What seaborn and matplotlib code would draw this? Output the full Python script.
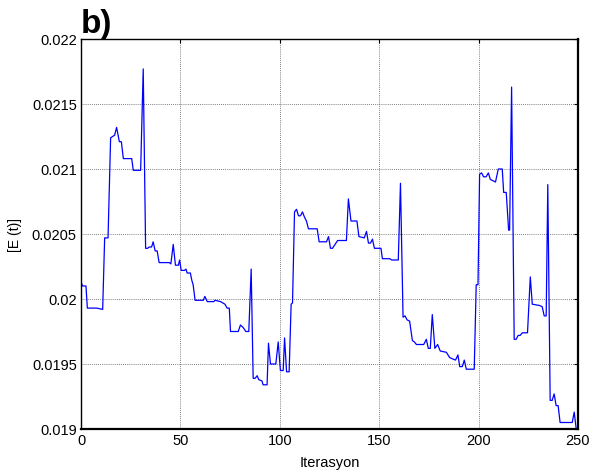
import numpy as np
import pandas as pd
import matplotlib
matplotlib.use("Agg")
import matplotlib.pyplot as plt
from matplotlib.ticker import FuncFormatter
import seaborn as sns

# breakpoints of the error curve (iteration, value)
iterasyon = [0, 0.8, 2.5, 3.2, 7.9, 10.9, 11.9, 13.6, 14.9, 16.9, 17.9, 19.3, 20.3, 21.3,
             25.5, 26.3, 30.0, 31.3, 32.5, 33.5, 34.3, 35.5, 36.3, 37.3, 38.3, 39.3,
             44.4, 45.2, 46.4, 47.5, 49.0, 49.6, 50.4, 52.0, 52.8, 53.4, 55.0, 55.8,
             56.4, 57.4, 61.5, 62.3, 63.5, 66.8, 67.4, 70.2, 71.3, 72.4, 73.5, 74.6,
             75.2, 79.1, 80.2, 81.6, 82.9, 84.4, 85.6, 86.6, 87.6, 88.6, 89.4, 91.0,
             91.6, 93.6, 94.3, 95.3, 98.0, 99.2, 100.3, 101.7, 102.4, 103.4, 104.7,
             105.7, 106.4, 107.4, 108.4, 109.4, 110.4, 111.4, 112.4, 113.4, 114.4,
             118.8, 119.8, 123.5, 124.5, 125.5, 126.5, 127.8, 129.1, 133.5, 134.5,
             135.8, 138.8, 139.8, 142.5, 143.6, 144.6, 145.6, 146.6, 147.6, 150.9,
             151.6, 155.3, 156.3, 159.6, 160.7, 162.0, 163.0, 164.0, 165.3, 166.7,
             167.7, 168.7, 172.4, 173.7, 174.7, 175.7, 176.7, 178.0, 179.4, 180.7,
             183.8, 185.4, 186.8, 188.4, 189.6, 190.5, 191.8, 192.8, 193.8, 197.8,
             198.8, 199.7, 200.5, 201.5, 202.5, 203.8, 204.9, 205.9, 207.2, 208.5,
             209.9, 211.9, 212.6, 213.9, 215.1, 215.6, 216.6, 217.9, 218.9, 219.9,
             220.9, 222.0, 224.6, 226.0, 227.0, 230.7, 232.0, 233.0, 234.0, 234.8,
             236.0, 237.0, 238.0, 239.0, 240.0, 241.0, 247.1, 248.1, 249.1, 250.0]
hata = [0.02013, 0.02010, 0.02010, 0.01993, 0.01993, 0.01992, 0.02047, 0.02047, 0.02124,
        0.02126, 0.02132, 0.02121, 0.02121, 0.02108, 0.02108, 0.02099, 0.02099, 0.02177,
        0.02039, 0.02039, 0.02040, 0.02040, 0.02044, 0.02037, 0.02037, 0.02028, 0.02028,
        0.02027, 0.02042, 0.02026, 0.02026, 0.02030, 0.02022, 0.02022, 0.02023, 0.02020,
        0.02020, 0.02014, 0.02011, 0.01999, 0.01999, 0.02002, 0.01998, 0.01998, 0.01999,
        0.01998, 0.01997, 0.01996, 0.01993, 0.01993, 0.01975, 0.01975, 0.01980, 0.01978,
        0.01975, 0.01975, 0.02023, 0.01939, 0.01939, 0.01941, 0.01938, 0.01937, 0.01934,
        0.01934, 0.01966, 0.01950, 0.01950, 0.01967, 0.01945, 0.01945, 0.01970, 0.01944,
        0.01944, 0.01996, 0.01997, 0.02067, 0.02069, 0.02064, 0.02064, 0.02067, 0.02063,
        0.02060, 0.02054, 0.02054, 0.02044, 0.02044, 0.02048, 0.02039, 0.02039, 0.02042,
        0.02045, 0.02045, 0.02077, 0.02060, 0.02060, 0.02048, 0.02047, 0.02052, 0.02043,
        0.02043, 0.02046, 0.02039, 0.02039, 0.02031, 0.02031, 0.02030, 0.02030, 0.02089,
        0.01986, 0.01987, 0.01984, 0.01983, 0.01968, 0.01967, 0.01965, 0.01965, 0.01969,
        0.01962, 0.01962, 0.01988, 0.01962, 0.01965, 0.01960, 0.01959, 0.01955, 0.01954,
        0.01953, 0.01957, 0.01948, 0.01948, 0.01953, 0.01946, 0.01946, 0.02011, 0.02011,
        0.02096, 0.02097, 0.02094, 0.02094, 0.02097, 0.02092, 0.02091, 0.02090, 0.02100,
        0.02100, 0.02082, 0.02082, 0.02053, 0.02053, 0.02163, 0.01969, 0.01969, 0.01972,
        0.01972, 0.01974, 0.01974, 0.02017, 0.01996, 0.01995, 0.01994, 0.01987, 0.01987,
        0.02088, 0.01922, 0.01922, 0.01927, 0.01918, 0.01918, 0.01905, 0.01905, 0.01913,
        0.01900, 0.01900]

x_ticks = [0, 50, 100, 150, 200, 250]
y_ticks = [0.019, 0.0195, 0.020, 0.0205, 0.021, 0.0215, 0.022]

df = pd.DataFrame({"Iterasyon": iterasyon, "E": hata})

sns.set_style("white")
plt.rcParams["font.family"] = ["Liberation Sans", "DejaVu Sans"]
plt.rcParams.update({"text.color": "black", "axes.labelcolor": "black",
                     "xtick.color": "black", "ytick.color": "black"})

fig = plt.figure(figsize=(5.93, 4.77), dpi=100)
ax = fig.add_axes([81 / 593, 1 - 430 / 477, 497 / 593, 390 / 477])

sns.lineplot(data=df, x="Iterasyon", y="E", sort=False, estimator=None,
             color="#0000ff", linewidth=0.9, ax=ax)

ax.set_xlim(0, 250)
ax.set_ylim(0.019, 0.022)
ax.set_xticks(x_ticks)
ax.set_yticks(y_ticks)
ax.yaxis.set_major_formatter(FuncFormatter(lambda v, p: f"{v:g}"))
ax.tick_params(direction="in", length=3, width=0.8, labelsize=10.5,
               top=True, right=True, pad=3)
ax.grid(True, color="#555555", linestyle=(0, (1, 1.5)), linewidth=0.6)
for s in ax.spines.values():
    s.set_color("black")
    s.set_linewidth(1.0)
ax.spines["bottom"].set_linewidth(1.6)
ax.spines["right"].set_linewidth(1.6)

ax.set_xlabel("Iterasyon", fontsize=10.5, labelpad=6)
ax.set_ylabel("[E (t)]", fontsize=10, labelpad=7)

fig.text(81 / 593, 1 - 33 / 477, "b)", fontsize=24, fontweight="bold", va="baseline")

fig.savefig("out.png", dpi=100)
